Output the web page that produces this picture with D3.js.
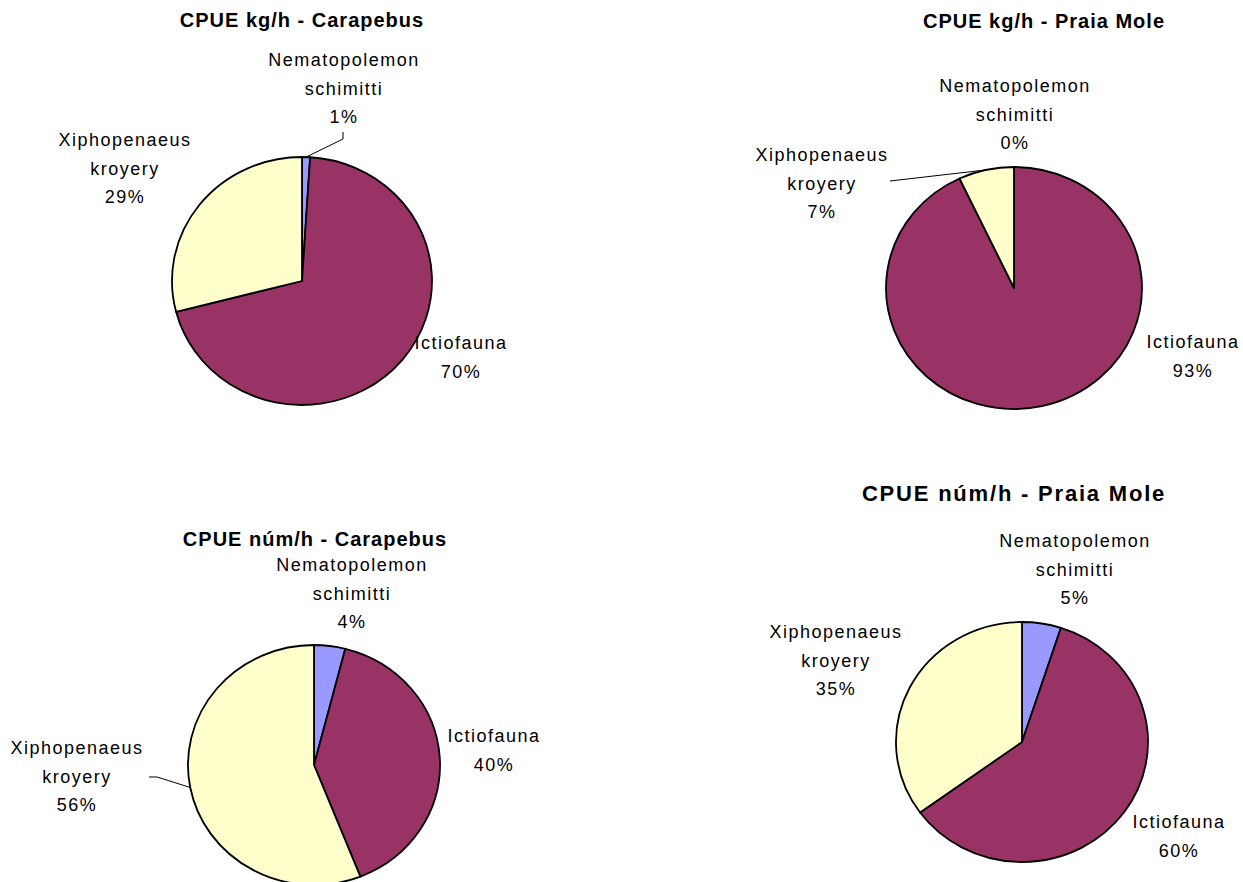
<!DOCTYPE html>
<html>
<head>
<meta charset="utf-8">
<script src="https://cdn.jsdelivr.net/npm/d3@7"></script>
<style>
  body { margin: 0; background: #fff; }
  svg { display: block; }
  text { font-family: Arial, "Liberation Sans", sans-serif; fill: #000; }
</style>
</head>
<body>
<svg id="chart" width="1243" height="882"></svg>
<script>
// Catch composition (CPUE) by group, in percent
const categories = ["Nematopolemon schimitti", "Ictiofauna", "Xiphopenaeus kroyery"];
const categoryLines = [["Nematopolemon", "schimitti"], ["Ictiofauna"], ["Xiphopenaeus", "kroyery"]];
const sliceColors = ["#9999FF", "#993366", "#FFFFCC"];

const titles = [
  "CPUE kg/h - Carapebus",
  "CPUE kg/h - Praia Mole",
  "CPUE núm/h - Carapebus",
  "CPUE núm/h - Praia Mole"
];
const kgCarapebus = [1, 70, 29];
const kgPraiaMole = [0, 93, 7];
const numCarapebus = [4, 40, 56];
const numPraiaMole = [5, 60, 35];
const seriesValues = [kgCarapebus, kgPraiaMole, numCarapebus, numPraiaMole];

// Panel layout: pie centre/radii, title placement, label anchors and leader lines
const panels = [
  { cx: 302, cy: 281, rx: 130, ry: 124, tx: 302, ty: 20, tsize: 20, tspace: 1,
    labels: [[344, 60], [461, 343], [125, 140]],
    leaders: [{ i: 0, pts: [[343, 132], [343, 139]] }] },
  { cx: 1014, cy: 288, rx: 128, ry: 121, tx: 1044, ty: 21, tsize: 20, tspace: 1,
    labels: [[1015, 86], [1193, 342], [822, 155]],
    leaders: [{ i: 2, pts: [[890, 181]] }] },
  { cx: 314, cy: 765, rx: 126, ry: 120, tx: 315, ty: 539, tsize: 20, tspace: 1,
    labels: [[352, 565], [494, 736], [77, 748]],
    leaders: [{ i: 2, pts: [[149, 777], [157, 777]] }] },
  { cx: 1022, cy: 742, rx: 126, ry: 120, tx: 1014, ty: 493, tsize: 22, tspace: 1.8,
    labels: [[1075, 541], [1179, 822], [836, 632]],
    leaders: [] }
];

const svg = d3.select("#chart");
const pie = d3.pie().sort(null).value(d => d);
const pct = d3.format(".0%");
const lineGap = 28.5;

panels.forEach((p, k) => {
  const vals = seriesValues[k];
  const total = d3.sum(vals);
  const arcs = pie(vals);
  const arc = d3.arc().innerRadius(0).outerRadius(p.ry);

  // title
  svg.append("text")
    .attr("x", p.tx).attr("y", p.ty)
    .attr("text-anchor", "middle")
    .attr("dominant-baseline", "central")
    .style("font-weight", "bold")
    .style("font-size", p.tsize + "px")
    .style("letter-spacing", p.tspace + "px")
    .text(titles[k]);

  // slices (elliptical: horizontal stretch)
  const g = svg.append("g")
    .attr("transform", `translate(${p.cx},${p.cy}) scale(${p.rx / p.ry},1)`);
  g.selectAll("path")
    .data(arcs)
    .join("path")
    .attr("d", arc)
    .attr("fill", (d, i) => sliceColors[i])
    .attr("stroke", "#000")
    .attr("stroke-width", 1.8)
    .attr("stroke-linejoin", "round")
    .attr("vector-effect", "non-scaling-stroke");

  // leader lines to the slice rim at mid-angle
  p.leaders.forEach(l => {
    const a = arcs[l.i];
    const m = (a.startAngle + a.endAngle) / 2;
    const edge = [p.cx + p.rx * Math.sin(m), p.cy - p.ry * Math.cos(m)];
    svg.append("path")
      .attr("d", d3.line()([...l.pts, edge]))
      .attr("fill", "none")
      .attr("stroke", "#000")
      .attr("stroke-width", 1);
  });

  // category labels with percentage
  arcs.forEach((a, i) => {
    const [lx, ly] = p.labels[i];
    const lines = [...categoryLines[i], pct(vals[i] / total)];
    const t = svg.append("text")
      .attr("text-anchor", "middle")
      .style("font-size", "18px")
      .style("letter-spacing", "1.5px");
    lines.forEach((s, j) => {
      t.append("tspan")
        .attr("x", lx).attr("y", ly + j * lineGap)
        .attr("dominant-baseline", "central")
        .text(s);
    });
  });
});
</script>
</body>
</html>
